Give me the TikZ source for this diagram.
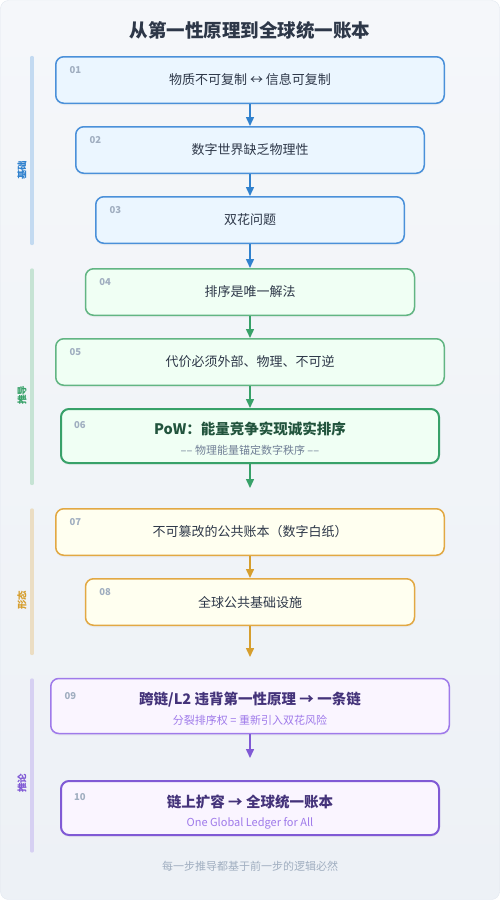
\documentclass[tikz,border=0pt]{standalone}
\usepackage{fontspec}
\setmainfont{Noto Sans CJK SC}
\usetikzlibrary{arrows.meta,shadows}

\definecolor{bgtop}{HTML}{F5F7FA}
\definecolor{bgbot}{HTML}{EDF1F6}
\definecolor{frame}{HTML}{E2E8F0}
\definecolor{ink}{HTML}{2D3748}
\definecolor{numgray}{HTML}{A0AEC0}
\definecolor{subgray}{HTML}{718096}
\definecolor{bluedraw}{HTML}{4A90D9}
\definecolor{bluefill}{HTML}{EBF6FF}
\definecolor{bluebar}{HTML}{C3DAF1}
\definecolor{bluetext}{HTML}{3182CE}
\definecolor{greendraw}{HTML}{62B583}
\definecolor{greenbold}{HTML}{38A169}
\definecolor{greenfill}{HTML}{F0FFF4}
\definecolor{greenbar}{HTML}{C6E3D4}
\definecolor{greendark}{HTML}{22543D}
\definecolor{golddraw}{HTML}{E2A843}
\definecolor{goldfill}{HTML}{FFFFF0}
\definecolor{goldbar}{HTML}{EBDDC3}
\definecolor{goldtext}{HTML}{D69E2E}
\definecolor{purpledraw}{HTML}{9F7AEA}
\definecolor{purplebold}{HTML}{805AD5}
\definecolor{purplefill}{HTML}{FAF5FF}
\definecolor{purplebar}{HTML}{D6D0F2}
\definecolor{purpledark}{HTML}{44337A}

\begin{document}
\begin{tikzpicture}[x=1pt,y=-1pt,
  stepbox/.style={draw, rounded corners=8pt, line width=1.5pt, minimum height=46.5pt, inner sep=0pt,
    font=\fontsize{13}{15}\selectfont, text=ink,
    drop shadow={opacity=0.06, shadow xshift=0pt, shadow yshift=-2pt}},
  tallbox/.style={minimum height=54pt, line width=2pt},
  bluebox/.style={stepbox, draw=bluedraw, fill=bluefill},
  greenbox/.style={stepbox, draw=greendraw, fill=greenfill},
  goldbox/.style={stepbox, draw=golddraw, fill=goldfill},
  purplebox/.style={stepbox, draw=purpledraw, fill=purplefill},
  stepnum/.style={anchor=west, inner sep=0pt, font=\fontsize{9.5}{11}\selectfont\bfseries, text=numgray},
  headline/.style={inner sep=0pt, text height=0.8em, text depth=0.2em, font=\fontsize{14.5}{16}\selectfont\bfseries},
  subline/.style={inner sep=0pt, text height=0.8em, text depth=0.2em, font=\fontsize{11}{13}\selectfont},
  sidelabel/.style={rotate=90, inner sep=0pt, font=\fontsize{9.5}{11}\selectfont\bfseries},
  sidebar/.style={line width=3.3pt, line cap=round},
  arr/.style={-{Triangle[width=8pt,length=9pt]}, line width=1.5pt}]

  \useasboundingbox (0,0) rectangle (500,900);
  \shadedraw[top color=bgtop, bottom color=bgbot, draw=frame, rounded corners=8pt] (0.5,0.5) rectangle (499.5,899.5);

  \node (title) at (250,30) [font=\fontsize{18.5}{20}\selectfont\bfseries, text=ink] {从第一性原理到全球统一账本};

  \draw[sidebar, bluebar] (32,57.5) -- (32,243.5);
  \draw[sidebar, greenbar] (32,270) -- (32,483.5);
  \draw[sidebar, goldbar] (32,510) -- (32,653.5);
  \draw[sidebar, purplebar] (32,680) -- (32,851);
  \node (lab1) at (22,170) [sidelabel, text=bluetext] {基础};
  \node (lab2) at (22,395) [sidelabel, text=greenbold] {推导};
  \node (lab3) at (22,600) [sidelabel, text=goldtext] {形态};
  \node (lab4) at (22,783) [sidelabel, text=purplebold] {推论};

  \node (n01) at (250,80) [bluebox, minimum width=388.5pt] {物质不可复制 ↔ 信息可复制};
  \node (n02) at (250,150) [bluebox, minimum width=348.5pt] {数字世界缺乏物理性};
  \node (n03) at (250,220) [bluebox, minimum width=308.5pt] {双花问题};
  \node (n04) at (250,292) [greenbox, minimum width=329pt] {排序是唯一解法};
  \node (n05) at (250,362) [greenbox, minimum width=388.5pt] {代价必须外部、物理、不可逆};
  \node (n06) at (250,436) [greenbox, tallbox, draw=greenbold, minimum width=378pt] {};
  \node (n06t) at ([yshift=4.3pt]n06.center) [headline, text=greendark] {PoW：能量竞争实现诚实排序};
  \node (n06s) at ([yshift=-15pt]n06.center) [subline, text=subgray] {–– 物理能量锚定数字秩序 ––};
  \node (n07) at (250,532) [goldbox, minimum width=388.5pt] {不可篡改的公共账本（数字白纸）};
  \node (n08) at (250,602) [goldbox, minimum width=329pt] {全球公共基础设施};
  \node (n09) at (250,706) [purplebox, minimum width=398.5pt, minimum height=55pt] {};
  \node (n09t) at ([yshift=5pt]n09.center) [headline, text=purpledark] {跨链/L2 违背第一性原理 → 一条链};
  \node (n09s) at ([yshift=-15pt]n09.center) [subline, text=purpledraw] {分裂排序权 = 重新引入双花风险};
  \node (n10) at (250,808) [purplebox, tallbox, draw=purplebold, minimum width=378pt] {};
  \node (n10t) at ([yshift=4pt]n10.center) [headline, text=purpledark] {链上扩容 → 全球统一账本};
  \node (n10s) at ([yshift=-15.3pt]n10.center) [subline, text=purpledraw] {One Global Ledger for All};

  \node (k01) at ([xshift=14.5pt,yshift=-14pt]n01.north west) [stepnum] {01};
  \node (k02) at ([xshift=14.5pt,yshift=-14pt]n02.north west) [stepnum] {02};
  \node (k03) at ([xshift=14.5pt,yshift=-14pt]n03.north west) [stepnum] {03};
  \node (k04) at ([xshift=14.5pt,yshift=-14pt]n04.north west) [stepnum] {04};
  \node (k05) at ([xshift=14.5pt,yshift=-14pt]n05.north west) [stepnum] {05};
  \node (k06) at ([xshift=14pt,yshift=-17.5pt]n06.north west) [stepnum] {06};
  \node (k07) at ([xshift=14.5pt,yshift=-14pt]n07.north west) [stepnum] {07};
  \node (k08) at ([xshift=14.5pt,yshift=-14pt]n08.north west) [stepnum] {08};
  \node (k09) at ([xshift=14.5pt,yshift=-18pt]n09.north west) [stepnum] {09};
  \node (k10) at ([xshift=14pt,yshift=-17.5pt]n10.north west) [stepnum] {10};

  \coordinate (g2end) at (250,488);
  \coordinate (g3end) at (250,657);

  \draw[arr, bluetext] (n01) -- (n02);
  \draw[arr, bluetext] (n02) -- (n03);
  \draw[arr, bluetext] (n03) -- (n04);
  \draw[arr, greenbold] (n04) -- (n05);
  \draw[arr, greenbold] (n05) -- (n06);
  \draw[arr, greenbold] (n06) -- (g2end);
  \draw[arr, goldtext] (n07) -- (n08);
  \draw[arr, goldtext] (n08) -- (g3end);
  \draw[arr, purplebold, shorten >=22pt] (n09) -- (n10);

  \node (foot) at (250,866) [font=\fontsize{11}{13}\selectfont, text=numgray] {每一步推导都基于前一步的逻辑必然};
\end{tikzpicture}
\end{document}
